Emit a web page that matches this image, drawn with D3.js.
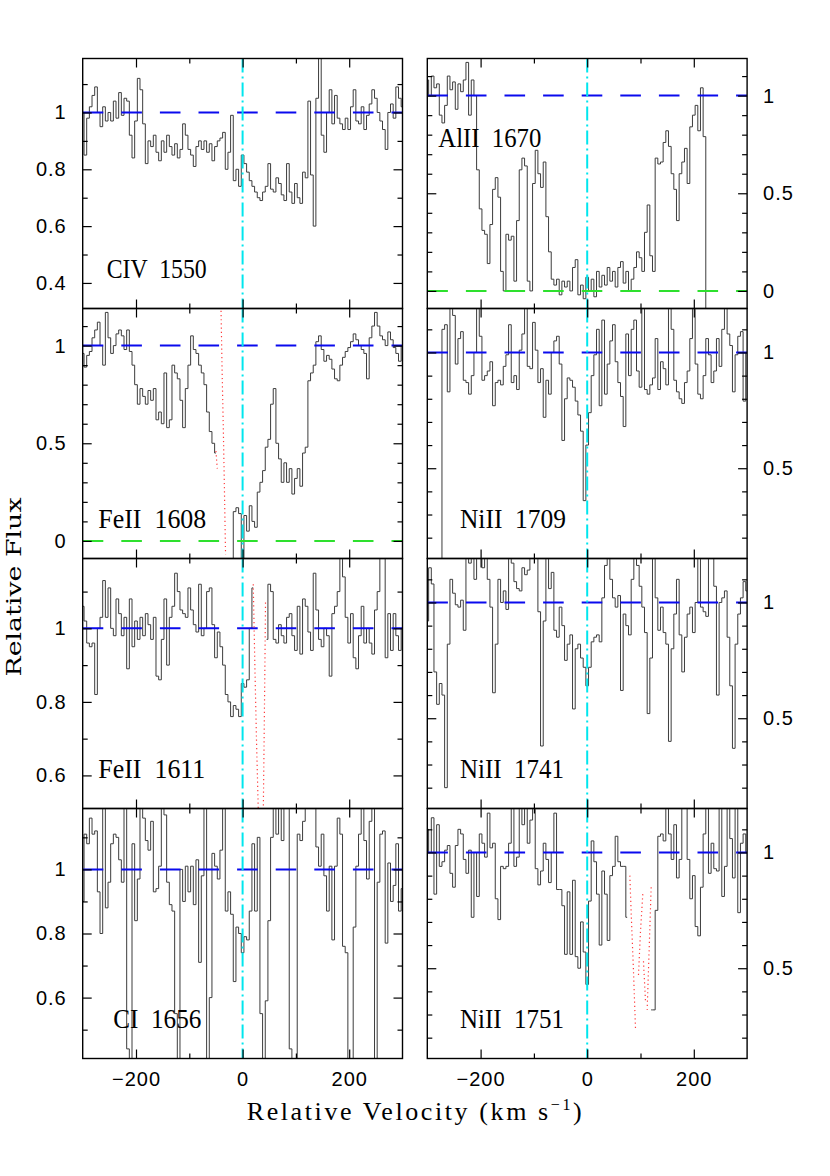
<!DOCTYPE html>
<html>
<head>
<meta charset="utf-8">
<script src="https://cdn.jsdelivr.net/npm/d3@7"></script>
<style>
  body { margin: 0; background: #fff; }
  svg text { fill: #000; }
</style>
</head>
<body>
<svg id="chart" width="830" height="1176"></svg>
<script>
// velocity grid of the spectra (km/s): pixel i sits at V0 + i*DV
const V0 = -300, DV = 5;

// normalised flux per pixel (null = no data)
const civ1550 = [1.0, 0.85, 0.98, 1.02, 1.06, 1.09, 1.0, 0.95, 1.02, 0.97,
  1.0, 0.97, 1.04, 0.98, 1.07, 0.99, 1.05, 1.04, 0.92, 0.84,
  0.97, 1.12, 1.08, 0.96, 0.82, 0.9, 0.88, 0.92, 0.86, 0.83,
  0.9, 0.86, 0.92, 0.88, 0.85, 0.89, 0.84, 0.87, 0.96, 0.92,
  0.87, 0.85, 0.81, 0.88, 0.9, 0.87, 0.9, 0.86, 0.89, 0.83,
  0.88, 0.9, 0.91, 0.93, 0.8, 0.86, 0.99, 0.76, 0.8, 0.74,
  0.85, 0.82, 0.79, 0.76, 0.74, 0.72, 0.7, 0.69, 0.72, 0.74,
  0.82, 0.73, 0.72, 0.77, 0.75, 0.71, 0.69, 0.82, 0.72, 0.68,
  0.75, 0.7, 0.68, 0.79, 0.77, 1.04, 0.78, 0.6, 1.05, 1.2,
  0.92, 0.86, 1.0, 1.08, 0.96, 1.06, 0.98, 0.96, 0.94, 0.98,
  0.94, 1.02, 1.08, 0.97, 0.96, 1.02, 0.94, 0.99, 1.03, 1.08,
  1.05, 1.0, 0.97, 0.94, 0.87, 1.0, 1.03, 0.98, 1.09, 1.05, 1.02];

const al1670 = [1.08, 1.0, 1.1, 1.04, 1.06, 0.9, 0.86, 0.95, 1.1, 1.03,
  1.07, 0.93, 1.06, 1.02, 1.08, 1.17, 0.9, 1.08, 1.0, 0.62,
  0.42, 0.31, 0.29, 0.14, 0.34, 0.52, 0.58, 0.48, 0.1, 0.0,
  0.29, 0.26, 0.28, 0.05, 0.36, 0.62, 0.68, 0.64, 0.05, 0.0,
  0.55, 0.72, 0.6, 0.53, 0.66, 0.38, 0.2, 0.06, 0.03, 0.06,
  -0.02, 0.05, 0.02, 0.05, 0.0, 0.12, 0.16, -0.02, 0.03, -0.04,
  0.07, 0.0, 0.06, -0.03, 0.1, 0.02, 0.08, 0.03, 0.12, 0.05,
  0.1, 0.02, 0.12, 0.15, 0.04, 0.1, 0.0, 0.06, 0.12, 0.2,
  0.17, 0.1, 0.3, 0.44, 0.18, 0.1, 0.68, 0.65, 0.66, 0.76,
  0.82, 0.74, 0.6, 0.52, 0.36, 0.6, 0.66, 0.73, 0.55, 0.84,
  0.9, 0.95, 0.82, 1.04, 0.79, -0.2, null, null, null, null,
  null, null, null, null, null, null, null, null, null, null, null];

const fe1608 = [0.96, 0.89, 0.95, 0.97, 1.04, 1.08, 1.12, 1.0, 0.9, 1.17,
  1.04, 0.96, 1.0, 1.06, 1.08, 1.05, 0.98, 1.08, 0.97, 0.9,
  0.8, 0.7, 0.78, 0.74, 0.7, 0.77, 0.72, 0.78, 0.62, 0.66,
  0.6, 0.86, 0.58, 0.62, 0.9, 0.86, 0.83, 0.72, 0.58, 0.78,
  0.9, 1.05, 0.98, 0.96, 0.9, 0.86, 0.8, 0.66, 0.56, 0.5,
  0.45, null, null, null, null, null, -0.2, 0.15, 0.17, 0.14,
  -0.1, 0.13, 0.05, 0.18, 0.1, 0.07, 0.25, 0.3, 0.36, 0.48,
  0.52, 0.7, 0.78, 0.5, 0.42, 0.3, 0.4, 0.3, 0.37, 0.24,
  0.32, 0.37, 0.28, 0.45, 0.48, 0.82, 0.86, 0.9, 1.02, 1.05,
  0.98, 0.92, 0.95, 0.93, 0.88, 0.83, 0.82, 0.9, 0.94, 0.97,
  0.99, 1.02, 1.06, 1.03, 1.0, 0.98, 0.96, 0.83, 1.04, 1.1,
  1.17, 1.1, 1.05, 1.03, 1.0, 1.07, 1.03, 0.99, 0.96, 0.92, 1.0];

const ni1709 = [null, null, null, null, null, 0.0, 1.1, 1.12, 0.83, 1.22,
  1.16, 0.95, 1.06, 1.09, 0.88, 0.87, 0.82, 0.9, 1.0, 1.22,
  1.07, 0.88, 0.9, 0.92, 0.96, 0.77, 0.87, 0.88, 0.86, 0.94,
  0.99, 1.12, 0.87, 0.9, 0.84, 1.01, 1.08, 1.22, 0.94, 0.93,
  1.13, 1.01, 0.87, 0.93, 0.72, 0.88, 0.82, 1.0, 1.05, 1.07,
  0.95, 0.62, 0.8, 0.89, 0.88, 0.85, 0.79, 0.73, 0.66, 0.36,
  0.6, 0.74, 0.9, 0.99, 1.1, 0.77, 1.14, 0.82, 0.95, 1.05,
  1.12, 0.96, 0.87, 0.81, 0.68, 1.08, 0.9, 1.1, 1.14, 0.92,
  0.85, 1.22, 0.84, 0.82, 0.86, 0.89, 1.06, 0.84, 0.96, 0.93,
  0.86, 1.22, 1.1, 0.88, 0.83, 0.8, 0.78, 0.87, 0.92, 1.06,
  1.22, 0.95, 0.82, 0.8, 0.9, 1.06, 0.99, 0.87, 0.92, 1.06,
  0.94, 1.1, 1.22, 1.08, 1.03, 0.83, 0.99, 1.07, 1.09, 0.79, 1.0];

const fe1611 = [1.06, 1.02, 0.96, 0.95, 0.96, 0.82, 1.0, 1.03, 1.13, 1.03,
  1.11, 1.0, 0.98, 1.08, 1.04, 0.98, 1.03, 0.89, 1.08, 0.95,
  1.02, 0.97, 1.03, 0.98, 1.04, 1.01, 0.97, 1.03, 0.87, 0.86,
  0.97, 1.08, 0.9, 1.03, 1.06, 1.15, 1.1, 1.05, 1.04, 1.03,
  1.11, 1.05, 1.01, 0.99, 1.12, 0.98, 1.0, 1.1, 1.11, 1.01,
  0.92, 0.99, 0.95, 0.9, 0.82, 0.8, 0.76, 0.79, 0.78, 0.76,
  0.85, 0.84, 0.86, 1.0, 1.11, null, null, null, null, 0.97,
  1.12, 1.1, 0.97, 0.96, 1.01, 0.98, 0.96, 1.03, 1.04, 0.98,
  0.94, 1.06, 0.93, 1.08, 1.06, 0.99, 0.94, 1.15, 1.05, 0.97,
  0.95, 1.0, 0.98, 0.87, 1.04, 1.06, 1.1, 1.2, 1.14, 1.03,
  0.96, 1.04, 0.92, 0.89, 0.98, 1.06, 0.96, 1.0, 0.96, 0.93,
  1.05, 1.1, 1.2, 1.22, 0.92, 1.04, 0.94, 1.04, 0.98, 0.94, 1.0];

const ni1741 = [0.92, 1.15, 1.08, 0.7, 0.56, 0.65, 0.6, 0.2, 0.82, 1.1,
  1.04, 0.99, 0.98, 1.01, 0.88, 1.22, 1.17, 1.22, 1.1, 1.22,
  1.22, 1.15, 1.22, 1.1, 0.98, 0.61, 0.82, 1.1, 1.0, 1.05,
  0.97, 1.22, 1.17, 1.09, 1.06, 1.05, 1.15, 1.12, 1.14, 1.22,
  1.22, 1.22, 0.96, 0.38, 0.92, 1.22, 1.06, 1.13, 0.88, 0.85,
  0.98, 0.9, 0.75, 0.82, 0.86, 0.54, 0.8, 0.82, 0.76, 0.72,
  0.64, 0.72, 0.83, 0.85, 0.86, 0.83, 1.02, 1.16, 1.22, 1.1,
  1.02, 0.98, 1.03, 0.62, 0.95, 0.9, 0.86, 1.1, 1.22, 1.16,
  1.07, 0.98, 0.87, 0.52, 0.76, 1.22, 1.02, 0.88, 0.98, 0.87,
  0.82, 0.4, 0.8, 0.95, 1.1, 0.86, 0.7, 0.85, 0.95, 0.98,
  0.87, 1.0, 1.22, 0.98, 0.96, 0.94, 1.22, 1.22, 1.07, 0.6,
  1.0, 1.02, 1.05, 0.85, 0.64, 0.37, 0.82, 0.95, 1.02, 1.09, 1.05];

const c1656 = [0.9, 1.11, 1.08, 1.16, 1.11, 1.12, 0.93, 0.8, 1.22, 0.88,
  0.96, 1.08, 1.11, 1.1, 1.03, 0.96, 1.22, 0.44, 0.3, 1.08,
  0.84, 0.97, 1.22, 1.16, 1.09, 1.06, 1.15, 0.93, 0.94, 1.01,
  1.22, 1.17, 0.96, 0.89, 0.87, 0.55, 0.3, 1.0, 0.9, 1.01,
  0.93, 1.01, 0.89, 1.03, 0.71, 0.98, 1.22, 0.3, 0.6, 1.05,
  1.01, 0.97, 1.06, 1.22, 0.87, 0.93, 0.86, 0.65, 0.82, 0.8,
  0.74, 0.79, 0.78, 0.87, 1.08, 0.87, 1.1, 0.55, 0.3, 0.59,
  0.84, 1.1, 1.22, 1.11, 1.22, 1.09, 1.22, 1.22, 0.44, 0.3,
  0.3, 1.11, 1.09, 1.15, 1.22, 1.22, 1.22, 1.22, 1.07, 1.01,
  1.11, 0.98, 0.87, 1.01, 0.78, 1.01, 1.16, 1.11, 0.76, 0.74,
  0.3, 0.35, 0.82, 1.01, 1.11, 1.22, 1.09, 0.97, 1.15, 1.22,
  0.3, 0.96, 1.11, 1.12, 0.77, 1.02, 0.9, 0.95, 1.08, 0.87, 0.94];

const ni1751 = [1.1, 1.0, 1.15, 0.82, 1.12, 0.94, 0.96, 1.01, 1.03, 0.91,
  0.85, 1.03, 1.1, 1.08, 0.97, 0.91, 1.01, 0.72, 1.0, 0.81,
  1.08, 1.04, 0.98, 1.17, 1.02, 1.04, 0.8, 0.71, 0.94, 0.93,
  0.94, 1.04, 1.22, 0.94, 0.98, 1.22, 1.12, 1.22, 1.04, 1.14,
  1.22, 0.93, 0.86, 0.92, 1.04, 0.97, 0.87, 1.0, 1.17, 0.84,
  0.84, 0.77, 0.56, 0.83, 0.56, 0.88, 0.55, 0.5, 0.7, 0.57,
  0.43, 0.79, 1.05, 0.96, 0.82, 0.6, 0.92, 0.82, 0.62, 0.9,
  0.94, 1.07, 0.96, 0.94, 0.94, 0.72, null, null, null, null,
  null, null, null, null, 0.32, 0.32, 0.75, 1.07, 1.08, 1.05,
  1.22, 1.08, 0.97, 1.12, 0.89, 0.97, 1.22, 1.22, 0.97, 0.8,
  0.9, 0.68, 0.64, 0.85, 1.08, 1.22, 0.91, 1.04, 0.93, 0.92,
  1.22, 0.81, 0.94, 1.22, 1.06, 0.89, 1.22, 0.74, 1.04, 1.08, 1.0];

// blended-line profiles (red dotted), [velocity, flux]
const fe1608ModelA = [[-50, 0.46], [-47.5, 0.37]];
const fe1608ModelB = [[-40.6, 1.2], [-38.5, 0.88], [-36, 0.55], [-34, 0.25], [-32, -0.07]];
const fe1611ModelA = [[20, 1.12], [23, 0.9], [26, 0.7], [29.5, 0.5]];
const fe1611ModelB = [[43, 1.07], [41.5, 0.85], [40, 0.65], [38.8, 0.5]];
const ni1751ModelA = [[80, 0.9], [83, 0.71], [86.8, 0.49], [90.6, 0.24]];
const ni1751ModelB = [[104.3, 0.82], [100, 0.66], [96, 0.46]];
const ni1751ModelC = [[120, 0.85], [116.8, 0.62], [112.5, 0.32]];
const ni1751ModelD = [[105.6, 0.53], [109.3, 0.36]];

// y tick labels per panel
const ticksFine = [0.4, 0.6, 0.8, 1];
const ticksZero = [0, 0.5, 1];
const ticksHalf = [0.5, 1];
const xMajor = [-200, 0, 200];
const xMinor = [-100, 100];

// layout
const colX = [82.7, 427.3];
const rowY = [58.5, 308.5, 558.5, 808.5];
const W = 319.8, H = 250;

const panels = [
  {label: "CIV  1550", flux: civ1550, col: 0, row: 0, yDom: [0.31, 1.19], major: ticksFine, lx: 24, ly: 219.8, lw: 100, models: []},
  {label: "AlII  1670", flux: al1670, col: 1, row: 0, yDom: [-0.09, 1.19], major: ticksZero, lx: 11, ly: 88.2, lw: 103, models: []},
  {label: "FeII  1608", flux: fe1608, col: 0, row: 1, yDom: [-0.09, 1.19], major: ticksZero, lx: 15.6, ly: 219.8, lw: 108, models: [fe1608ModelA, fe1608ModelB]},
  {label: "NiII  1709", flux: ni1709, col: 1, row: 1, yDom: [0.11, 1.19], major: ticksHalf, lx: 32.7, ly: 219.8, lw: 106, models: []},
  {label: "FeII  1611", flux: fe1611, col: 0, row: 2, yDom: [0.51, 1.19], major: ticksFine, lx: 15.6, ly: 219.8, lw: 107, models: [fe1611ModelA, fe1611ModelB]},
  {label: "NiII  1741", flux: ni1741, col: 1, row: 2, yDom: [0.11, 1.19], major: ticksHalf, lx: 32.7, ly: 219.8, lw: 104, models: []},
  {label: "CI  1656", flux: c1656, col: 0, row: 3, yDom: [0.41, 1.19], major: ticksFine, lx: 30.6, ly: 219.8, lw: 88, models: []},
  {label: "NiII  1751", flux: ni1751, col: 1, row: 3, yDom: [0.11, 1.19], major: ticksHalf, lx: 32.7, ly: 219.8, lw: 104, models: [ni1751ModelA, ni1751ModelB, ni1751ModelC, ni1751ModelD]}
];

const svg = d3.select("#chart");
const tickFont = "'Liberation Sans', Arial, sans-serif";
const serif = "'Liberation Serif', 'Times New Roman', serif";

function addAxis(g, axis, values, size, pad, withLabels) {
  const a = axis.tickValues(values).tickSize(-size).tickPadding(pad)
    .tickFormat(withLabels ? (d => d < 0 ? "\u2212" + Math.abs(d) : String(d)) : () => "");
  const s = g.append("g").call(a);
  s.select(".domain").remove();
  s.selectAll("line").attr("stroke", "#000").attr("stroke-width", 1.2);
  s.selectAll("text").attr("font-family", tickFont).attr("font-size", 20)
    .attr("letter-spacing", 1).attr("fill", "#000");
  return s;
}

panels.forEach(function (p, k) {
  const g = svg.append("g").attr("transform", `translate(${colX[p.col]},${rowY[p.row]})`);
  const x = d3.scaleLinear().domain([-300, 300]).range([0, W]);
  const y = d3.scaleLinear().domain(p.yDom).range([H, 0]);
  const inDom = d => d >= p.yDom[0] && d <= p.yDom[1];

  const clipId = "clip" + k;
  g.append("clipPath").attr("id", clipId)
    .append("rect").attr("width", W).attr("height", H);
  const plot = g.append("g").attr("clip-path", `url(#${clipId})`);

  // spectrum as a histogram
  const pts = p.flux.map((f, i) => ({v: V0 + i * DV, f: f}));
  const step = d3.line()
    .defined(d => d.f !== null)
    .x(d => x(d.v))
    .y(d => y(d.f))
    .curve(d3.curveStep);
  plot.append("path").datum(pts)
    .attr("d", step)
    .attr("fill", "none")
    .attr("stroke", "#3c3c3c")
    .attr("stroke-width", 1);

  // continuum and zero level
  plot.append("line")
    .attr("x1", 0).attr("x2", W).attr("y1", y(1)).attr("y2", y(1))
    .attr("stroke", "#0a0aee").attr("stroke-width", 2)
    .attr("stroke-dasharray", "20.6,18");
  if (p.yDom[0] < 0) {
    plot.append("line")
      .attr("x1", 0).attr("x2", W).attr("y1", y(0)).attr("y2", y(0))
      .attr("stroke", "#2ee02e").attr("stroke-width", 2)
      .attr("stroke-dasharray", "20.6,18");
  }

  // blended components
  const mline = d3.line().x(d => x(d[0])).y(d => y(d[1]));
  p.models.forEach(function (m) {
    plot.append("path").datum(m)
      .attr("d", mline)
      .attr("fill", "none")
      .attr("stroke", "#ff3b3b")
      .attr("stroke-width", 1.2)
      .attr("stroke-dasharray", "1.2,3");
  });

  // systemic velocity
  plot.append("line")
    .attr("x1", x(0)).attr("x2", x(0)).attr("y1", 0).attr("y2", H)
    .attr("stroke", "#00e6ee").attr("stroke-width", 2)
    .attr("stroke-dasharray", "14,4,2,4");

  // frame
  g.append("rect").attr("width", W).attr("height", H)
    .attr("fill", "none").attr("stroke", "#000").attr("stroke-width", 1.4);

  // ticks
  const major = p.major.filter(inDom);
  const minor = d3.range(Math.ceil(p.yDom[0] * 10), Math.floor(p.yDom[1] * 10) + 1)
    .map(d => d / 10)
    .filter(d => !major.some(m => Math.abs(m - d) < 1e-6));
  addAxis(g, d3.axisLeft(y), minor, 5, 0, false);
  addAxis(g, d3.axisLeft(y), major, 9, 16, p.col === 0);
  const right = g.append("g").attr("transform", `translate(${W},0)`);
  addAxis(right, d3.axisRight(y), minor, 5, 0, false);
  addAxis(right, d3.axisRight(y), major, 9, 16, p.col === 1);
  addAxis(g, d3.axisTop(x), xMinor, 5, 0, false);
  addAxis(g, d3.axisTop(x), xMajor, 9, 0, false);
  const bottom = g.append("g").attr("transform", `translate(0,${H})`);
  addAxis(bottom, d3.axisBottom(x), xMinor, 5, 0, false);
  addAxis(bottom, d3.axisBottom(x), xMajor, 9, 13, p.row === 3);

  // transition label
  g.append("text")
    .attr("x", p.lx).attr("y", p.ly)
    .attr("font-family", serif).attr("font-size", 27)
    .attr("textLength", p.lw).attr("lengthAdjust", "spacingAndGlyphs")
    .style("white-space", "pre")
    .text(p.label);
});

// axis titles
const xt = svg.append("text")
  .attr("x", 246.7).attr("y", 1120)
  .attr("font-family", serif).attr("font-size", 26)
  .attr("letter-spacing", 2.6);
xt.append("tspan").text("Relative Velocity (km s");
xt.append("tspan").attr("font-size", 16).attr("dy", -10).text("\u22121");
xt.append("tspan").attr("dy", 10).text(")");

svg.append("text")
  .attr("transform", "translate(21,587) rotate(-90)")
  .attr("text-anchor", "middle")
  .attr("font-family", "'DejaVu Serif', serif").attr("font-size", 20)
  .attr("textLength", 179).attr("lengthAdjust", "spacingAndGlyphs")
  .text("Relative Flux");
</script>
</body>
</html>
